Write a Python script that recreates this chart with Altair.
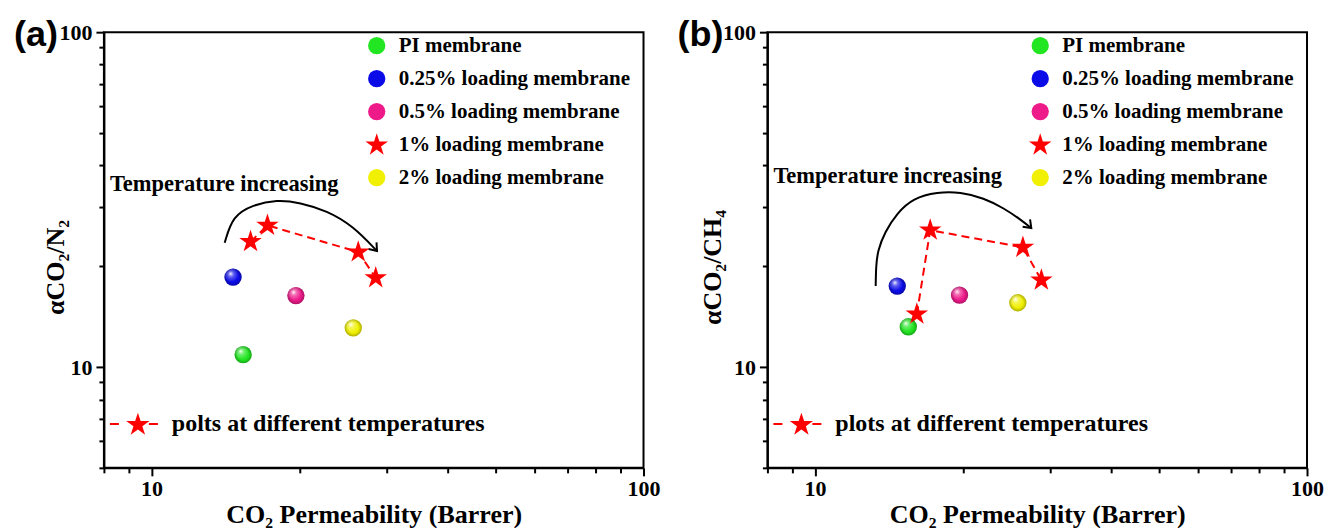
import altair as alt
import pandas as pd

# ---------------- data ----------------
membranes = ["PI membrane", "0.25% loading membrane", "0.5% loading membrane",
             "1% loading membrane", "2% loading membrane"]
sphere_labels = ["PI membrane", "0.25% loading membrane", "0.5% loading membrane",
                 "2% loading membrane"]
star_label = "1% loading membrane"

# panel (a): alpha CO2/N2
a_sphere_x = [15.35, 14.64, 19.65, 25.7]
a_sphere_y = [10.89, 18.56, 16.35, 13.09]
a_star_x = [15.89, 17.2, 26.31, 28.55]
a_star_y = [23.68, 26.49, 22.05, 18.47]
a_arc_x = [14.08, 14.62, 16.06, 17.97, 20.02, 22.72, 25.67, 28.72]
a_arc_y = [23.5, 28.3, 30.5, 31.6, 31.0, 29.3, 26.4, 22.2]

# panel (b): alpha CO2/CH4
b_sphere_x = [15.47, 14.69, 19.66, 25.83]
b_sphere_y = [13.19, 17.45, 16.4, 15.56]
b_star_x = [16.1, 17.14, 26.45, 28.84]
b_star_y = [14.39, 25.64, 22.77, 18.18]
b_arc_x = [13.28, 13.3, 13.41, 13.86, 14.67, 15.82, 17.72, 19.75, 22.03, 24.21, 26.23, 27.51]
b_arc_y = [17.45, 20.02, 22.3, 25.3, 28.8, 31.95, 33.3, 33.3, 31.95, 29.8, 27.5, 26.0]

x_ticks = [8, 9, 10, 20, 30, 40, 50, 60, 70, 80, 90, 100]
y_ticks = [5, 6, 7, 8, 9, 10, 20, 30, 40, 50, 60, 70, 80, 90, 100]

# ---------------- style ----------------
STAR = ("M0,-1L0.2245,-0.309L0.951,-0.309L0.3633,0.118L0.5878,0.809L0,0.382"
        "L-0.5878,0.809L-0.3633,0.118L-0.951,-0.309L-0.2245,-0.309Z")
CHEVRON = "M-1,-0.75L0,0L-1,0.75"
colors = ["#22e622", "#0b0be8", "#ee1a8a", "#ff0000", "#f0f000"]
shapes = ["circle", "circle", "circle", STAR, "circle"]
sizes = [300, 300, 300, 560, 300]
SERIF = "Liberation Serif"
W, H = 540, 436

major_test = "datum.value == 10 || datum.value == 100"


def panel(sx, sy, tx, ty, ax, ay, ytitle, ytitle_x, letter, note, tip_angle, temp_y):
    sph = pd.DataFrame({"x": sx, "y": sy, "membrane": sphere_labels})
    stars = pd.DataFrame({"x": tx, "y": ty, "membrane": [star_label] * len(tx),
                          "i": list(range(len(tx)))})
    pts = pd.concat([sph, stars[["x", "y", "membrane"]]], ignore_index=True)
    arc = pd.DataFrame({"x": ax, "y": ay, "i": list(range(len(ax)))})
    tip = arc.tail(1)

    xenc = alt.X("x:Q", scale=alt.Scale(type="log", domain=[8, 100], nice=False),
                 axis=alt.Axis(title="CO₂ Permeability (Barrer)", values=x_ticks,
                               labelExpr=f"({major_test}) ? format(datum.value, 'd') : ''",
                               tickSize={"condition": {"test": major_test, "value": 8}, "value": 5},
                               labelPadding=3, labelFlush=False, labelOverlap=False,
                               titleY=47, titleBaseline="middle", titleAnchor="middle"))
    yenc = alt.Y("y:Q", scale=alt.Scale(type="log", domain=[5, 100], nice=False),
                 axis=alt.Axis(title=ytitle, values=y_ticks,
                               labelExpr=f"({major_test}) ? format(datum.value, 'd') : ''",
                               tickSize={"condition": {"test": major_test, "value": 8}, "value": 5},
                               labelPadding=4, labelFlush=False, labelOverlap=False,
                               titleX=ytitle_x, titleY=235, titleAngle=270,
                               titleAlign="center", titleBaseline="middle"))

    leg = alt.Legend(orient="none", legendX=261, legendY=3, title=None)
    dashed = alt.Chart(stars).mark_line(color="#ff0000", strokeWidth=2, strokeDash=[8, 5]).encode(
        x=xenc, y=yenc, order=alt.Order("i:Q"))
    arc_line = alt.Chart(arc).mark_line(color="black", strokeWidth=2, interpolate="basis").encode(
        x=xenc, y=yenc, order=alt.Order("i:Q"))
    head = alt.Chart(tip).mark_point(shape=CHEVRON, filled=False, stroke="black", strokeWidth=2,
                                     size=196, angle=tip_angle, opacity=1).encode(x=xenc, y=yenc)
    points = alt.Chart(pts).mark_point(filled=True, opacity=1, strokeWidth=0).encode(
        x=xenc, y=yenc,
        color=alt.Color("membrane:N", scale=alt.Scale(domain=membranes, range=colors), legend=leg),
        shape=alt.Shape("membrane:N", scale=alt.Scale(domain=membranes, range=shapes), legend=leg),
        size=alt.Size("membrane:N", scale=alt.Scale(type="ordinal", domain=membranes, range=sizes),
                      legend=leg),
    )
    shade = alt.Chart(sph).mark_circle(
        size=300, opacity=1,
        fill=alt.RadialGradient(gradient="radial",
                                stops=[alt.GradientStop(offset=0, color="rgba(0,0,0,0)"),
                                       alt.GradientStop(offset=1, color="rgba(0,0,0,0.28)")],
                                x1=0.5, y1=0.5, r1=0.3, x2=0.5, y2=0.5, r2=0.5)).encode(x=xenc, y=yenc)
    shine = alt.Chart(sph).mark_circle(
        size=300, opacity=1,
        fill=alt.RadialGradient(gradient="radial",
                                stops=[alt.GradientStop(offset=0, color="rgba(255,255,255,0.95)"),
                                       alt.GradientStop(offset=0.4, color="rgba(255,255,255,0.35)"),
                                       alt.GradientStop(offset=1, color="rgba(255,255,255,0)")],
                                x1=0.36, y1=0.3, r1=0, x2=0.4, y2=0.36, r2=0.42)).encode(x=xenc, y=yenc)

    base = alt.Chart(pd.DataFrame({"t": [0]}))
    temp_txt = base.mark_text(text="Temperature increasing", font=SERIF, fontWeight="bold",
                              fontSize=22.5, align="left", baseline="middle", color="black").encode(
        x=alt.value(6), y=alt.value(temp_y))
    letter_txt = base.mark_text(text=letter, font="Liberation Sans", fontWeight="bold",
                                fontSize=36, align="left", baseline="middle", color="black").encode(
        x=alt.value(-90), y=alt.value(3))
    note_rule = base.mark_rule(color="#ff0000", strokeWidth=2, strokeDash=[9, 30]).encode(
        x=alt.value(6), x2=alt.value(54), y=alt.value(392))
    note_star = base.mark_point(shape=STAR, filled=True, color="#ff0000", size=600,
                                opacity=1, strokeWidth=0).encode(x=alt.value(34), y=alt.value(393))
    note_txt = base.mark_text(text=note, font=SERIF, fontWeight="bold", fontSize=24,
                              align="left", baseline="middle", color="black").encode(
        x=alt.value(68), y=alt.value(392))

    return alt.layer(dashed, arc_line, head, points, shade, shine,
                     temp_txt, letter_txt, note_rule, note_star, note_txt).properties(width=W, height=H)


pa = panel(a_sphere_x, a_sphere_y, a_star_x, a_star_y, a_arc_x, a_arc_y,
           "αCO₂/N₂", -48, "(a)", "polts at different temperatures", 50, 152)
pb = panel(b_sphere_x, b_sphere_y, b_star_x, b_star_y, b_arc_x, b_arc_y,
           "αCO₂/CH₄", -55, "(b)", "plots at different temperatures", 45, 144)

chart = alt.hconcat(pa, pb, spacing=124, bounds="flush").resolve_scale(
    x="independent", y="independent", color="independent", shape="independent", size="independent"
).properties(
    padding={"left": 13, "top": 16, "right": 0, "bottom": 0},
    background="white",
).configure_view(
    stroke="black", strokeWidth=2
).configure_axis(
    domainColor="black", domainWidth=2, tickColor="black", tickWidth=2, grid=False,
    labelFont=SERIF, labelFontWeight="bold", labelFontSize=22, labelColor="black",
    titleFont=SERIF, titleFontWeight="bold", titleFontSize=26, titleColor="black",
).configure_legend(
    labelFont=SERIF, labelFontWeight="bold", labelFontSize=21, labelColor="black",
    labelLimit=0, rowPadding=11, labelOffset=10, padding=0, symbolStrokeWidth=0,
    symbolOpacity=1,
)

chart.save("out.html", embed_options={"renderer": "svg", "actions": False})
